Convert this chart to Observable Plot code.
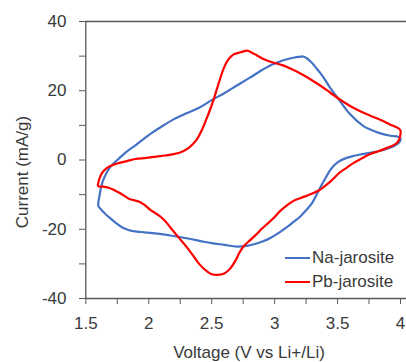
<!DOCTYPE html>
<html><head><meta charset="utf-8">
<script src="https://cdn.jsdelivr.net/npm/d3@7"></script>
<script src="https://cdn.jsdelivr.net/npm/@observablehq/plot@0.6"></script>
<style>
body{margin:0;background:#fff;}
#wrap{position:relative;width:406px;height:362px;overflow:hidden;font-family:"Liberation Sans",Arial,sans-serif;}
#wrap svg{display:block;}
.leg{position:absolute;left:285px;height:24px;display:flex;align-items:center;font-size:17px;color:#3a3a3a;white-space:nowrap;}
.leg i{display:inline-block;width:25px;height:2px;margin-right:2px;}
.ytitle{position:absolute;left:23px;top:172px;transform:translate(-50%,-50%) rotate(-90deg);font-size:17px;color:#3a3a3a;white-space:nowrap;}
</style></head><body><div id="wrap"></div>
<script>
const seriesNames = ["Na-jarosite", "Pb-jarosite"];
const seriesColors = ["#4472C4", "#FF0000"];
const xTitle = "Voltage (V vs Li+/Li)";
const yTitle = "Current (mA/g)";
const xTickMarks = [1.5, 1.75, 2, 2.25, 2.5, 2.75, 3, 3.25, 3.5, 3.75, 4];
const xTickLabels = [1.5, 2, 2.5, 3, 3.5, 4];
const yTickMarks = [-40, -30, -20, -10, 0, 10, 20, 30, 40];
const yTickLabels = [-40, -20, 0, 20, 40];

// Na-jarosite loop (anodic branch then cathodic branch)
const naVoltage = [1.600,1.608,1.625,1.650,1.690,1.750,1.820,1.900,2.000,2.100,2.200,2.300,2.400,2.500,2.600,2.700,2.800,2.900,3.000,3.100,3.160,3.200,3.225,3.255,3.290,3.330,3.380,3.440,3.520,3.600,3.706,3.760,3.840,3.920,3.980,4.000,
  3.985,3.940,3.863,3.760,3.680,3.600,3.520,3.480,3.440,3.400,3.350,3.300,3.250,3.204,3.150,3.098,3.030,2.966,2.913,2.850,2.780,2.700,2.600,2.500,2.437,2.300,2.172,2.100,2.030,1.940,1.870,1.840,1.790,1.740,1.700,1.656,1.620];
const naCurrent = [-13.3,-10.5,-7.3,-4.8,-2.2,0.0,2.3,4.4,7.2,9.6,11.8,13.5,15.1,17.3,19.3,21.5,23.7,26.0,27.9,29.1,29.6,29.8,29.9,29.4,28.3,26.6,24.3,20.9,17.0,13.2,9.8,8.8,7.7,7.0,6.7,6.2,
  4.9,3.9,2.9,2.1,1.6,0.9,-0.2,-1.3,-3.0,-5.5,-8.8,-12.3,-14.5,-16.3,-17.9,-19.4,-21.1,-22.5,-23.4,-24.2,-24.8,-25.0,-24.5,-24.0,-23.6,-22.6,-21.8,-21.4,-21.1,-20.8,-20.5,-20.2,-19.5,-18.2,-17.0,-15.6,-14.2];

// Pb-jarosite loop
const pbVoltage = [1.598,1.605,1.620,1.645,1.680,1.749,1.820,1.894,1.980,2.060,2.130,2.200,2.260,2.320,2.380,2.420,2.460,2.490,2.516,2.550,2.595,2.630,2.675,2.730,2.781,2.820,2.860,2.920,2.992,3.060,3.125,3.230,3.350,3.440,3.521,3.600,3.680,3.760,3.839,3.920,3.982,4.000,
  4.000,3.985,3.960,3.894,3.830,3.760,3.690,3.625,3.574,3.521,3.440,3.350,3.283,3.220,3.150,3.100,3.045,2.990,2.940,2.900,2.860,2.810,2.754,2.720,2.690,2.648,2.600,2.543,2.500,2.463,2.400,2.350,2.305,2.240,2.172,2.130,2.080,2.013,1.960,1.920,1.880,1.841,1.800,1.762,1.720,1.683,1.640];
const pbCurrent = [-7.5,-5.8,-4.3,-3.0,-2.0,-1.0,-0.4,0.3,0.6,1.0,1.3,1.7,2.3,3.6,5.8,8.5,12.0,14.8,17.5,21.5,26.4,28.9,30.5,31.1,31.6,31.0,30.2,29.0,28.1,27.4,26.4,24.5,21.8,19.5,17.4,15.6,14.1,12.8,11.6,10.2,9.2,8.5,
  7.5,5.6,4.6,3.5,2.6,1.7,0.4,-0.9,-2.2,-3.5,-6.3,-8.8,-9.9,-10.8,-11.8,-13.0,-14.7,-16.8,-18.5,-19.8,-21.3,-23.0,-24.9,-26.8,-29.0,-31.3,-32.8,-33.2,-33.0,-32.2,-30.0,-27.5,-25.3,-22.5,-19.5,-17.6,-16.0,-14.4,-12.8,-12.0,-11.6,-11.2,-10.2,-9.4,-8.6,-8.0,-7.7];

const rows = [
  ...naVoltage.map((v, i) => ({series: seriesNames[0], v, c: naCurrent[i]})),
  ...pbVoltage.map((v, i) => ({series: seriesNames[1], v, c: pbCurrent[i]}))
];

const axisColor = "#595959";
const textColor = "#3a3a3a";
const font = '"Liberation Sans", Arial, sans-serif';

const chart = Plot.plot({
  width: 406, height: 362,
  marginLeft: 85, marginRight: 0, marginTop: 21, marginBottom: 64,
  style: {fontFamily: font, fontSize: "17px", color: textColor, background: "white", overflow: "hidden"},
  x: {domain: [1.5, 4], range: [85.3, 400]},
  y: {domain: [-40, 40]},
  color: {domain: seriesNames, range: seriesColors},
  marks: [
    Plot.ruleY([40], {stroke: axisColor, strokeWidth: 1.3}),
    Plot.ruleX([1.5], {stroke: axisColor, strokeWidth: 1.3}),
    Plot.ruleY([-40], {stroke: axisColor, strokeWidth: 1.3}),
    Plot.axisX(xTickMarks, {tickSize: 6, tickPadding: 12, stroke: axisColor, fill: textColor,
      tickFormat: d => xTickLabels.includes(d) ? String(d) : "", label: null}),
    Plot.axisY(yTickMarks, {tickSize: 6, tickPadding: 13, stroke: axisColor, fill: textColor,
      tickFormat: d => yTickLabels.includes(d) ? String(d) : "", label: null}),
    Plot.line(rows, {x: "v", y: "c", z: "series", stroke: "series", strokeWidth: 2.2, curve: "catmull-rom-closed"}),
    Plot.text([xTitle], {frameAnchor: "bottom", dx: 3, dy: 54, lineAnchor: "middle", fill: textColor})
  ]
});
const wrap = document.getElementById("wrap");
wrap.appendChild(chart);
const yt = document.createElement("div");
yt.className = "ytitle";
yt.textContent = yTitle;
wrap.appendChild(yt);
const legTops = [246, 270];
seriesNames.forEach((name, i) => {
  const d = document.createElement("div");
  d.className = "leg";
  d.style.top = legTops[i] + "px";
  const sw = document.createElement("i");
  sw.style.background = seriesColors[i];
  d.appendChild(sw);
  d.appendChild(document.createTextNode(name));
  wrap.appendChild(d);
});
</script></body></html>
